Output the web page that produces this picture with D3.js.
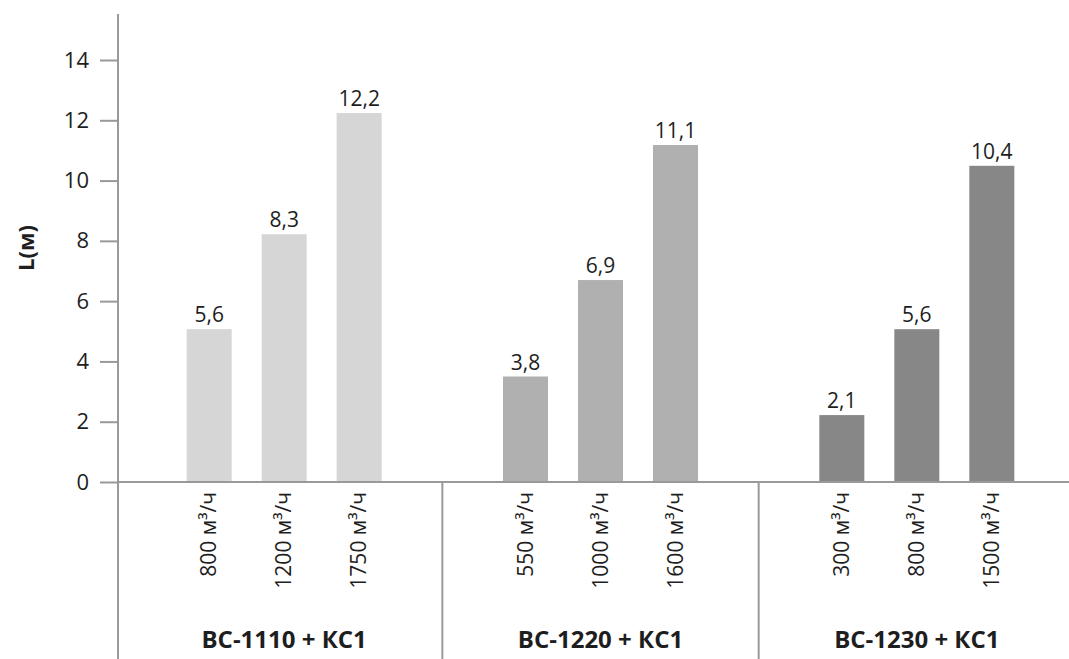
<!DOCTYPE html>
<html>
<head>
<meta charset="utf-8">
<script src="https://cdn.jsdelivr.net/npm/d3@7"></script>
<style>
  body { margin: 0; background: #fff; }
  svg text { font-family: "Open Sans", "Noto Sans", sans-serif; fill: #1e1e1e; }
</style>
</head>
<body>
<svg id="chart" width="1069" height="659"></svg>
<script>
// data
var groups = ['ВС-1110 + КС1', 'ВС-1220 + КС1', 'ВС-1230 + КС1'];
var flows = [
  ['800 м³/ч', '1200 м³/ч', '1750 м³/ч'],
  ['550 м³/ч', '1000 м³/ч', '1600 м³/ч'],
  ['300 м³/ч', '800 м³/ч', '1500 м³/ч']
];
// printed labels
var labels = [
  ['5,6', '8,3', '12,2'],
  ['3,8', '6,9', '11,1'],
  ['2,1', '5,6', '10,4']
];
// drawn bar heights (as they appear on the picture)
var heights = [
  [5.07, 8.22, 12.24],
  [3.50, 6.70, 11.18],
  [2.22, 5.07, 10.49]
];
var colors = ['#d6d6d6', '#b0b0b0', '#878787'];
var yTicks = [0, 2, 4, 6, 8, 10, 12, 14];

var svg = d3.select('#chart'),
    W = 1069, H = 659,
    axisX = 118, axisColor = '#999';

var y = d3.scaleLinear().domain([0, 14]).range([482, 60]);

var gx = d3.scaleBand().domain(d3.range(groups.length)).range([126, 1075]);
var bx = d3.scaleBand().domain(d3.range(3)).range([-97.5, 97.5]).paddingInner(0.4);

// group columns
var g = svg.selectAll('.group')
  .data(groups)
  .enter().append('g')
    .attr('class', 'group')
    .attr('transform', function(d, i){ return 'translate(' + (gx(i) + gx.bandwidth() / 2) + ',0)'; });

g.selectAll('rect')
  .data(function(d, i){ return heights[i].map(function(v, j){ return {v: v, j: j, g: i}; }); })
  .enter().append('rect')
    .attr('x', function(d){ return bx(d.j); })
    .attr('width', bx.bandwidth())
    .attr('y', function(d){ return y(d.v); })
    .attr('height', function(d){ return y(0) - y(d.v); })
    .attr('fill', function(d){ return colors[d.g]; });

g.selectAll('.val')
  .data(function(d, i){ return heights[i].map(function(v, j){ return {v: v, j: j, g: i}; }); })
  .enter().append('text')
    .attr('class', 'val')
    .attr('x', function(d){ return bx(d.j) + bx.bandwidth() / 2; })
    .attr('y', function(d){ return y(d.v) - 7; })
    .attr('text-anchor', 'middle')
    .style('font-size', '21px')
    .text(function(d){ return labels[d.g][d.j]; });

g.selectAll('.flow')
  .data(function(d, i){ return flows[i].map(function(t, j){ return {t: t, j: j}; }); })
  .enter().append('text')
    .attr('class', 'flow')
    .attr('transform', function(d){
      return 'translate(' + (bx(d.j) + bx.bandwidth() / 2 + 7) + ',492) rotate(-90)';
    })
    .attr('text-anchor', 'end')
    .style('font-size', '21px')
    .text(function(d){ return d.t; });

g.append('text')
  .attr('x', 0)
  .attr('y', 648)
  .attr('text-anchor', 'middle')
  .style('font-size', '24px')
  .style('font-weight', 'bold')
  .text(function(d){ return d; });

// separators between groups
svg.selectAll('.sep')
  .data(d3.range(1, groups.length))
  .enter().append('line')
    .attr('x1', function(i){ return gx(i); })
    .attr('x2', function(i){ return gx(i); })
    .attr('y1', y(0)).attr('y2', H)
    .attr('stroke', axisColor).attr('stroke-width', 2);

// baseline
svg.append('line')
  .attr('x1', axisX).attr('x2', W)
  .attr('y1', y(0)).attr('y2', y(0))
  .attr('stroke', axisColor).attr('stroke-width', 2);

// y axis
var yAxis = d3.axisLeft(y).tickValues(yTicks).tickSize(18).tickPadding(11);
var ya = svg.append('g')
  .attr('transform', 'translate(' + axisX + ',0)')
  .call(yAxis);
ya.select('.domain').remove();
ya.selectAll('.tick line').attr('stroke', axisColor).attr('stroke-width', 2);
ya.selectAll('.tick text').style('font-size', '22px').attr('fill', '#1e1e1e')
  .style('font-family', '"Open Sans", "Noto Sans", sans-serif');

svg.append('line')
  .attr('x1', axisX).attr('x2', axisX)
  .attr('y1', 14).attr('y2', H)
  .attr('stroke', axisColor).attr('stroke-width', 2);

svg.append('text')
  .attr('transform', 'translate(34,248) rotate(-90)')
  .attr('text-anchor', 'middle')
  .style('font-size', '22px')
  .style('font-weight', 'bold')
  .text('L(м)');
</script>
</body>
</html>
